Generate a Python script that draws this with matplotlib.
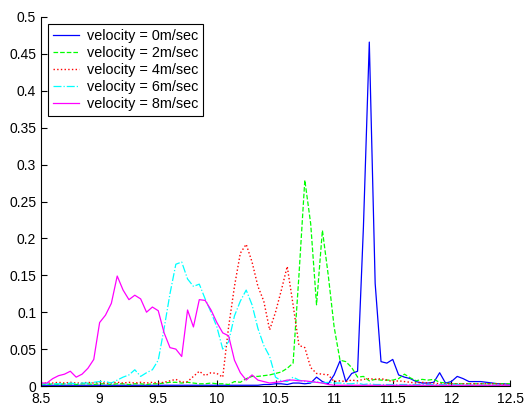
import numpy as np
import matplotlib
matplotlib.use('Agg')
import matplotlib.pyplot as plt
from matplotlib.ticker import FuncFormatter

plt.rcParams.update({
    'font.family': 'Liberation Sans',
    'font.size': 10,
})

# common x grid (8.5 .. 12.5, step 0.05)
x = np.round(np.arange(8.5, 12.5001, 0.05), 2)

v0 = [0.001, 0.001, 0.001, 0.001, 0.001, 0.001, 0.001, 0.001, 0.001, 0.001,
      0.001, 0.001, 0.001, 0.001, 0.001, 0.001, 0.001, 0.001, 0.001, 0.001,
      0.001, 0.001, 0.001, 0.001, 0.001, 0.001, 0.001, 0.001, 0.001, 0.001,
      0.001, 0.001, 0.001, 0.001, 0.001, 0.001, 0.001, 0.001, 0.002, 0.002,
      0.003, 0.003, 0.002, 0.004, 0.004, 0.003, 0.004, 0.012, 0.006, 0.003,
      0.015, 0.034, 0.006, 0.017, 0.020, 0.216, 0.466, 0.139, 0.033, 0.031,
      0.036, 0.015, 0.012, 0.010, 0.006, 0.004, 0.004, 0.005, 0.018, 0.004,
      0.006, 0.013, 0.010, 0.006, 0.006, 0.006, 0.005, 0.004, 0.003, 0.003,
      0.002]
v2 = [0.003, 0.002, 0.003, 0.002, 0.003, 0.003, 0.002, 0.003, 0.003, 0.002,
      0.003, 0.003, 0.002, 0.003, 0.003, 0.002, 0.003, 0.003, 0.002, 0.003,
      0.003, 0.004, 0.005, 0.005, 0.004, 0.005, 0.004, 0.003, 0.003, 0.004,
      0.003, 0.003, 0.002, 0.006, 0.005, 0.010, 0.013, 0.013, 0.014, 0.015,
      0.017, 0.019, 0.024, 0.031, 0.150, 0.279, 0.220, 0.110, 0.211, 0.150,
      0.080, 0.035, 0.033, 0.025, 0.012, 0.013, 0.007, 0.009, 0.008, 0.008,
      0.008, 0.010, 0.016, 0.011, 0.007, 0.009, 0.008, 0.009, 0.005, 0.004,
      0.003, 0.003, 0.003, 0.003, 0.003, 0.003, 0.003, 0.003, 0.003, 0.003,
      0.003]
v4 = [0.004, 0.004, 0.004, 0.005, 0.004, 0.005, 0.004, 0.004, 0.005, 0.004,
      0.005, 0.004, 0.004, 0.005, 0.004, 0.005, 0.004, 0.005, 0.004, 0.005,
      0.004, 0.005, 0.007, 0.009, 0.005, 0.006, 0.013, 0.020, 0.014, 0.018,
      0.017, 0.012, 0.080, 0.135, 0.180, 0.192, 0.168, 0.135, 0.115, 0.076,
      0.100, 0.130, 0.162, 0.110, 0.055, 0.052, 0.025, 0.017, 0.016, 0.015,
      0.006, 0.007, 0.006, 0.008, 0.007, 0.009, 0.010, 0.009, 0.010, 0.008,
      0.006, 0.007, 0.006, 0.005, 0.004, 0.005, 0.004, 0.004, 0.003, 0.003,
      0.003, 0.003, 0.003, 0.003, 0.003, 0.003, 0.003, 0.003, 0.003, 0.002,
      0.002]
v6 = [0.003, 0.003, 0.003, 0.003, 0.003, 0.004, 0.003, 0.004, 0.004, 0.005,
      0.006, 0.006, 0.004, 0.008, 0.012, 0.015, 0.022, 0.013, 0.018, 0.022,
      0.035, 0.078, 0.125, 0.165, 0.168, 0.145, 0.135, 0.138, 0.118, 0.100,
      0.080, 0.050, 0.060, 0.095, 0.115, 0.130, 0.110, 0.078, 0.055, 0.040,
      0.012, 0.007, 0.006, 0.012, 0.008, 0.006, 0.005, 0.006, 0.004, 0.005,
      0.004, 0.004, 0.003, 0.003, 0.004, 0.002, 0.003, 0.002, 0.002, 0.002,
      0.002, 0.002, 0.002, 0.002, 0.002, 0.002, 0.002, 0.002, 0.002, 0.002,
      0.002, 0.002, 0.002, 0.001, 0.001, 0.001, 0.001, 0.001, 0.001, 0.001,
      0.001]
v8 = [0.004, 0.004, 0.010, 0.014, 0.016, 0.020, 0.012, 0.016, 0.024, 0.036,
      0.086, 0.096, 0.112, 0.149, 0.130, 0.117, 0.123, 0.118, 0.100, 0.107,
      0.102, 0.072, 0.052, 0.050, 0.040, 0.103, 0.080, 0.117, 0.116, 0.103,
      0.086, 0.072, 0.068, 0.035, 0.018, 0.008, 0.015, 0.008, 0.006, 0.004,
      0.005, 0.006, 0.008, 0.008, 0.007, 0.007, 0.006, 0.005, 0.004, 0.002,
      0.001, 0.001, 0.001, 0.001, 0.001, 0.001, 0.001, 0.001, 0.001, 0.001,
      0.001, 0.001, 0.001, 0.001, 0.001, 0.001, 0.001, 0.001, 0.001, 0.001,
      0.001, 0.001, 0.001, 0.001, 0.001, 0.001, 0.001, 0.001, 0.001, 0.001,
      0.001]

labels = ['velocity = 0m/sec', 'velocity = 2m/sec', 'velocity = 4m/sec',
          'velocity = 6m/sec', 'velocity = 8m/sec']

fig = plt.figure(figsize=(5.24, 4.05), dpi=100)
ax = fig.add_axes([41/524, 19/405, 469/524, 369/405])

ax.plot(x, v0, '-', color='#0000ff', lw=0.9, label=labels[0])
ax.plot(x, v2, '--', color='#00ff00', lw=0.9, label=labels[1])
ax.plot(x, v4, ':', color='#ff0000', lw=1.0, label=labels[2])
ax.plot(x, v6, '-.', color='#00ffff', lw=0.9, label=labels[3])
ax.plot(x, v8, '-', color='#ff00ff', lw=0.9, label=labels[4])

ax.set_xlim(8.5, 12.5)
ax.set_ylim(0, 0.5)
ax.set_xticks(np.arange(8.5, 12.51, 0.5))
ax.set_yticks(np.arange(0, 0.501, 0.05))
ax.xaxis.set_major_formatter(FuncFormatter(lambda v, p: '%g' % round(v, 2)))
ax.yaxis.set_major_formatter(FuncFormatter(lambda v, p: '%g' % round(v, 2)))
ax.tick_params(direction='in', length=4, width=0.8)
ax.tick_params(axis='x', pad=4)
ax.spines['top'].set_visible(False)
ax.spines['right'].set_visible(False)

leg = ax.legend(loc='upper left', bbox_to_anchor=(0.015, 0.981), fontsize=10.4,
                fancybox=False, edgecolor='black', framealpha=1,
                handlelength=1.8, handletextpad=0.55, labelspacing=0.2,
                borderpad=0.35, borderaxespad=0)
leg.get_frame().set_linewidth(0.8)

fig.savefig('out.png', dpi=100)
